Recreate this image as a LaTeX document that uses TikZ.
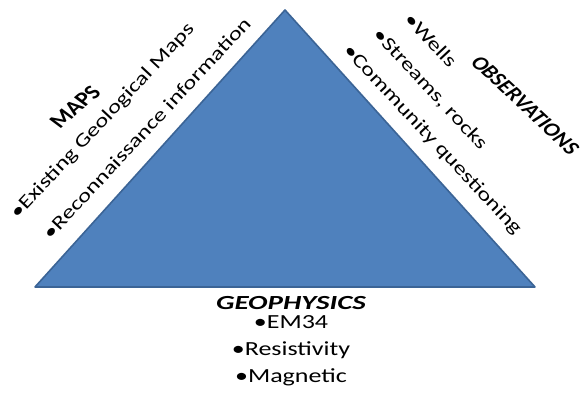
\documentclass[tikz,border=0pt]{standalone}
\usepackage{fontspec}
\setmainfont{Carlito}
\usetikzlibrary{positioning}
\definecolor{ctri}{HTML}{4F81BD}
\definecolor{ctriD}{HTML}{3B6496}
\tikzset{
  tri/.style={fill=ctri, draw=ctriD, line width=1.6pt, line join=round},
  sidetxt/.style={inner sep=0pt, font=\fontsize{19}{24}\selectfont},
  lside/.style={sidetxt, rotate=47, xscale=1.3, anchor=west},
  rside/.style={sidetxt, rotate=-47, xscale=1.3, anchor=west},
  ttl/.style={inner sep=0pt, xscale=1.25, font=\fontsize{20}{24}\selectfont\bfseries},
  ittl/.style={inner sep=0pt, xscale=1.15, font=\fontsize{20}{24}\selectfont\bfseries\itshape},
  bttl/.style={inner sep=0pt, xscale=1.45, font=\fontsize{20}{27}\selectfont\bfseries\itshape},
  bottxt/.style={inner sep=0pt, align=center, xscale=1.3, font=\fontsize{20}{27}\selectfont},
}
\begin{document}
\begin{tikzpicture}[x=1pt, y=1pt]
  \useasboundingbox (0,0) rectangle (588,398);
  \coordinate (top) at (285,388);
  \coordinate (bl) at (35,111);
  \coordinate (br) at (535,111);
  \draw[tri] (bl) -- (top) -- (br) -- cycle;
  \node[ttl, rotate=47] (maps) at (75,291) {MAPS};
  \node[lside] (exist) at (14,181.5) {•Existing Geological Maps};
  \node[lside] (recon) at (46,162) {•Reconnaissance information};
  \node[ittl, rotate=-47] (obs) at (525,293) {OBSERVATIONS};
  \node[rside] (wells) at (408,382.5) {•Wells};
  \node[rside] (strm) at (376,366.5) {•Streams, rocks};
  \node[rside] (comm) at (346,350.5) {•Community questioning};
  \node[bttl] (geoph) at (291,95) {GEOPHYSICS};
  \node[bottxt, below=5pt of geoph] (meth) {•EM34\\•Resistivity\\•Magnetic};
\end{tikzpicture}
\end{document}
